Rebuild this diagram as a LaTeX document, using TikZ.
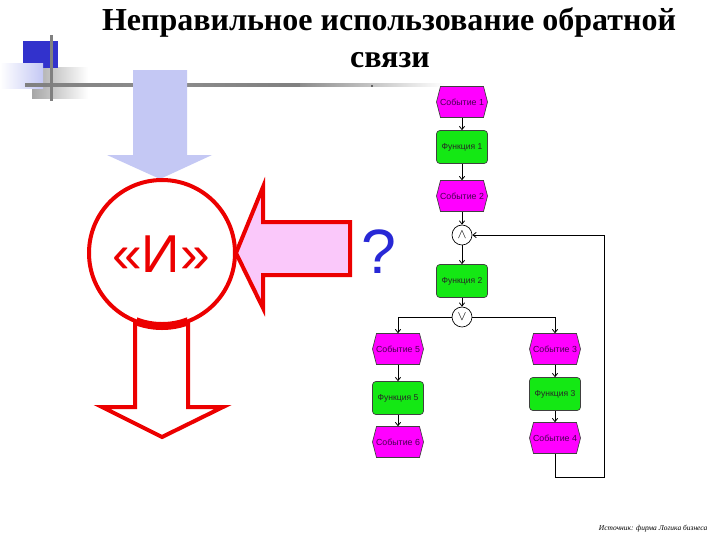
\documentclass[tikz,border=0pt]{standalone}
\usepackage{fontspec}
\setmainfont{Liberation Serif}
\newfontfamily\arialf{Liberation Sans}
\usetikzlibrary{arrows.meta,calc}
\definecolor{lblue}{RGB}{196,200,244}
\definecolor{dblue}{RGB}{50,50,204}
\definecolor{pinkf}{RGB}{250,200,250}
\definecolor{evmag}{RGB}{255,0,255}
\definecolor{fngreen}{RGB}{20,232,20}
\definecolor{qblue}{RGB}{40,40,214}
\definecolor{evtxt}{RGB}{70,0,80}
\definecolor{redline}{RGB}{236,0,0}
\newcommand\evhex[3]{%
  \begin{scope}[shift={#2}]
    \filldraw[fill=evmag,draw=black!75,line width=0.5pt] (-25.5,0) -- (-21.5,-15.5) -- (21.5,-15.5) -- (25.5,0) -- (21.5,15.5) -- (-21.5,15.5) -- cycle;
  \end{scope}
  \node[evtext] (#1) at #2 {#3};}
\tikzset{
  evtext/.style={minimum width=38.25pt,minimum height=23.25pt,inner sep=0pt,text=evtxt,font=\arialf\fontsize{6.6}{7}\selectfont},
  fnbox/.style={draw=black!75,line width=0.5pt,fill=fngreen,rounded corners=2.5pt,minimum width=38.25pt,minimum height=24.75pt,inner sep=0pt,text=black!85,font=\arialf\fontsize{6.4}{7}\selectfont},
  gate/.style={circle,draw=black,line width=0.5pt,fill=white,minimum size=15pt,inner sep=0pt},
  arr/.style={draw=black,line width=0.6pt,-{Straight Barb[length=2.5pt,width=4pt]}},
  bigline/.style={draw=redline,line width=3pt,line join=miter},
}
\begin{document}
\begin{tikzpicture}[x=0.75pt,y=-0.75pt]
\useasboundingbox (0,0) rectangle (720,540);
\fill[white] (0,0) rectangle (720,540);
% top-left decoration
\shade[left color=black!35,right color=white] (32,67) rectangle (88,98);
\fill[dblue] (23,41) rectangle (58,68);
\shade[left color=white,right color=lblue] (0,63) rectangle (43,88);
\shade[left color=black!50,right color=black!50,middle color=black!45] (25,83.5) rectangle (300,86);
\shade[left color=black!45,right color=white] (300,83.5) rectangle (445,86);
\fill[black!50] (50,35) rectangle (52.5,101);
\fill[black] (372,86) circle (0.9);
% title
\node[anchor=base,font=\bfseries\fontsize{24}{28}\selectfont] (t1) at (389,30) {Неправильное использование обратной};
\node[anchor=base,font=\bfseries\fontsize{24}{28}\selectfont] (t2) at (390,67) {связи};
% light blue arrow
\fill[lblue] (133,70) -- (187,70) -- (187,155) -- (212,155) -- (160,179) -- (107,155) -- (133,155) -- cycle;
% red outlined down arrow
\filldraw[bigline,fill=white] (135,300) -- (188,300) -- (188,407) -- (223,407) -- (162,437) -- (102,407) -- (135,407) -- cycle;
% circle
\node[circle,draw=redline,line width=3pt,fill=white,minimum size=109.5pt,inner sep=0pt] (andc) at (162,253) {};
\begin{scope}
  \clip (137,300) rectangle (187,340);
  \draw[redline,line width=6pt] (162,253) circle (73);
\end{scope}
\node[text=redline,font=\arialf\fontsize{40}{44}\selectfont] (andt) at (161,254) {«И»};
% pink arrow
\filldraw[bigline,fill=pinkf] (350,222) -- (350,275) -- (263,275) -- (263,308) -- (236,253) -- (263,187) -- (263,222) -- cycle;
% question mark
\node[text=qblue,font=\arialf\fontsize{47}{50}\selectfont] (q) at (379,252) {?};
% flowchart
\evhex{e1}{(462,102)}{Событие 1}
\node[fnbox] (f1) at (462,147) {Функция 1};
\evhex{e2}{(462,196)}{Событие 2}
\node[gate] (and) at (462,235) {$\wedge$};
\node[fnbox] (f2) at (462,281) {Функция 2};
\node[gate] (or) at (462,317) {$\vee$};
\evhex{e5}{(398,349)}{Событие 5}
\node[fnbox] (f5) at (398,398) {Функция 5};
\evhex{e6}{(398,442)}{Событие 6}
\evhex{e3}{(555,349)}{Событие 3}
\node[fnbox] (f3) at (555,394) {Функция 3};
\evhex{e4}{(555,438)}{Событие 4}
\coordinate (fb1) at (604,477);
\coordinate (fb2) at (604,235);
\draw[arr] (e1) -- (f1);
\draw[arr] (f1) -- (e2);
\draw[arr] (e2) -- (and);
\draw[arr] (and) -- (f2);
\draw[arr] (f2) -- (or);
\draw[arr] (or.west) -| (e5.north);
\draw[arr] (or.east) -| (e3.north);
\draw[arr] (e5) -- (f5);
\draw[arr] (f5) -- (e6);
\draw[arr] (e3) -- (f3);
\draw[arr] (f3) -- (e4);
\draw[arr] (e4.south) |- (fb1) -- (fb2) -- (and.east);
% footer
\node[anchor=base east,font=\itshape\fontsize{5.6}{6}\selectfont] (src) at (712,530) {Источник: фирма Логика бизнеса};
\end{tikzpicture}
\end{document}
